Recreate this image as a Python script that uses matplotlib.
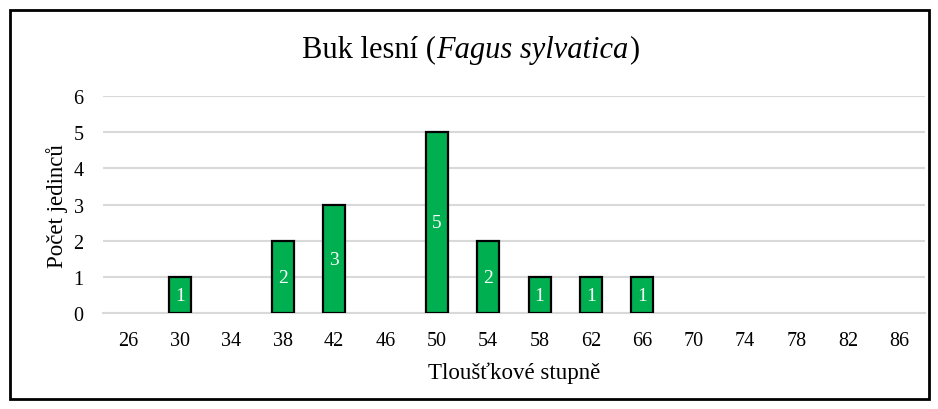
import matplotlib
matplotlib.use("Agg")
import matplotlib.pyplot as plt
from matplotlib.patches import Rectangle

categories = ["26", "30", "34", "38", "42", "46", "50", "54", "58", "62", "66", "70", "74", "78", "82", "86"]
values = [0, 1, 0, 2, 3, 0, 5, 2, 1, 1, 1, 0, 0, 0, 0, 0]

plt.rcParams['font.family'] = ['Liberation Serif', 'DejaVu Serif']

fig = plt.figure(figsize=(9.38, 4.10), dpi=100)
ax = fig.add_axes([0.1098, 0.2330, 0.8762, 0.5305])

x = list(range(len(categories)))
bars = ax.bar(x, values, width=0.43, color="#00B050", edgecolor="black", linewidth=1.6, zorder=3)
for b, v in zip(bars, values):
    if v == 0:
        b.set_visible(False)
for xi, v in zip(x, values):
    if v > 0:
        ax.text(xi, v / 2, str(v), ha="center", va="center", color="white", fontsize=14, zorder=4)

ax.set_xlim(-0.5, len(categories) - 0.5)
ax.set_ylim(0, 6)
ax.set_yticks(range(0, 7))
ax.set_xticks(x)
ax.set_xticklabels(categories)
ax.grid(axis="y", color="#D9D9D9", linewidth=1.5, zorder=0)
ax.set_axisbelow(True)
for s in ["top", "right", "left"]:
    ax.spines[s].set_visible(False)
ax.spines["bottom"].set_color("#D9D9D9")
ax.spines["bottom"].set_linewidth(1.5)
ax.tick_params(axis="both", length=0, labelsize=14.5, colors="black")
ax.tick_params(axis="x", pad=12.5)
ax.tick_params(axis="y", pad=14)

ax.set_xlabel("Tloušťkové stupně", fontsize=16.5, labelpad=8.5)
ax.set_ylabel("Počet jedinců", fontsize=16.5, labelpad=4)

fig.canvas.draw()
r = fig.canvas.get_renderer()
t = fig.text(0.5, 0.878, "Buk lesní (Fagus sylvatica)", fontsize=22, ha="center", va="center", alpha=0)
bb = t.get_window_extent(r)
t.remove()
parts = [("Buk lesní (", "normal"), ("Fagus sylvatica", "italic"), (")", "normal")]
cur = bb.x0
for s, st in parts:
    tt = fig.text(cur / fig.bbox.width, 0.878, s, fontsize=22, style=st, ha="left", va="center")
    cur = tt.get_window_extent(r).x1

fig.patches.append(Rectangle((10 / 938, 10 / 410), 919 / 938, 389 / 410, transform=fig.transFigure,
                             fill=False, edgecolor="black", linewidth=2))

fig.savefig("out.png", dpi=100)
